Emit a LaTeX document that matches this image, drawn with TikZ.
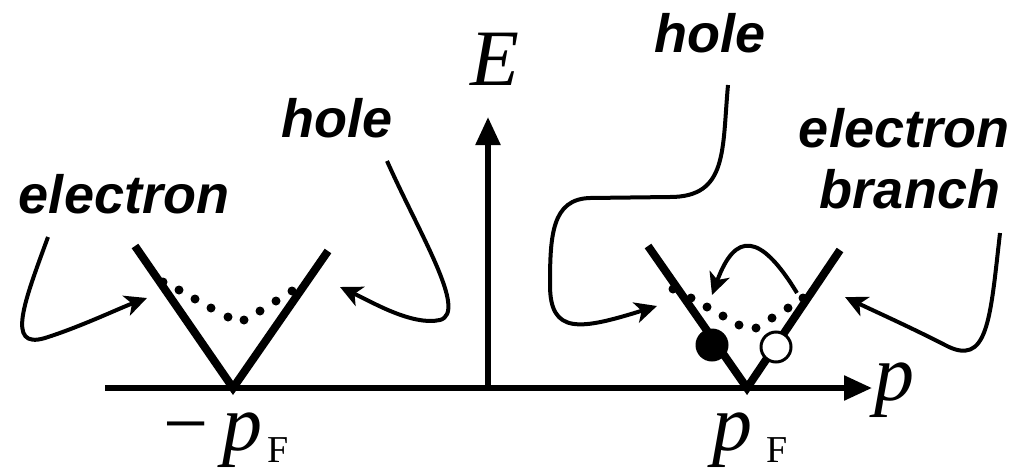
\documentclass[tikz,border=0pt]{standalone}
\usepackage{fontspec}
\usetikzlibrary{arrows.meta}
\newfontfamily\labfont{Liberation Sans}
\newfontfamily\symfont{Liberation Serif}
\begin{document}
\begin{tikzpicture}[x=1pt,y=-1pt,
  axis/.style={line width=5.5pt,-{Triangle[length=28pt,width=24pt]}},
  branchline/.style={line width=8pt,line join=miter},
  pointer/.style={line width=4pt,-{Stealth[length=22pt,width=21pt,inset=6pt]}},
  lab/.style={font=\labfont\bfseries\itshape\fontsize{54}{61}\selectfont,inner sep=0pt},
  sym/.style={font=\symfont\itshape\fontsize{80}{80}\selectfont,inner sep=0pt},
  subsym/.style={font=\symfont\fontsize{38}{38}\selectfont,inner sep=0pt},
  dotmark/.style={fill=black}]
\useasboundingbox (0,0) rectangle (1022,474);
% axes
\coordinate (xs) at (105,388);
\coordinate (xe) at (872,388);
\coordinate (O) at (488,388);
\coordinate (ye) at (488,117);
\draw[axis] (xs) -- (xe);
\draw[axis] (O) -- (ye);
\node[sym,anchor=base west] (E) at (470,85) {E};
\node[sym,anchor=base west] (p) at (874,400) {p};
% left V
\coordinate (L1) at (135,246);
\coordinate (L0) at (233,388);
\coordinate (L2) at (328,251);
\draw[branchline] (L1) -- (L0) -- (L2);
\foreach \x/\y in {163/282,179/290,195/299,211/308,228/317,244/320,260/311,276/301,292/291}
  \fill[dotmark] (\x,\y) circle (4.5pt);
% right V
\coordinate (R1) at (648,246);
\coordinate (R0) at (747,388);
\coordinate (R2) at (840,250);
\draw[branchline] (R1) -- (R0) -- (R2);
\foreach \x/\y in {673/289,691/298,707/307,723/316,739/325,756/328,772/318,788/308,803/298}
  \fill[dotmark] (\x,\y) circle (4.5pt);
\fill[black] (712,345) circle (16.5pt);
\draw[line width=3pt,fill=white] (776,347) circle (15pt);
% labels
\node[lab,anchor=base] (elL) at (124,213) {electron};
\node[lab,anchor=base] (holeL) at (337,137) {hole};
\node[lab,anchor=base] (holeR) at (710,52) {hole};
\node[lab,anchor=base] (elR) at (904,147) {electron};
\node[lab,anchor=base] (brR) at (910,208) {branch};
\node[sym,anchor=base west] (mpF) at (163,450) {\upshape\char"2212\hspace{14pt}\itshape p};
\node[subsym,anchor=base west] (mF) at (267,462) {F};
\node[sym,anchor=base west] (pF) at (712,450) {p};
\node[subsym,anchor=base west] (F) at (766,462) {F};
% pointers
\coordinate (a1s) at (48,237);
\coordinate (a1e) at (147,298);
\draw[pointer] (a1s) .. controls (25,300) and (5,350) .. (45,338) .. controls (80,327) and (120,308) .. (a1e);
\coordinate (a2s) at (387,161);
\coordinate (a2e) at (340,287);
\draw[pointer] (a2s) .. controls (420,235) and (468,312) .. (440,320) .. controls (412,326) and (372,302) .. (a2e);
\coordinate (a3s) at (728,85);
\coordinate (a3e) at (657,306);
\draw[pointer] (a3s) .. controls (722,150) and (728,197) .. (670,197) -- (590,198) .. controls (552,199) and (550,235) .. (550,285) .. controls (550,335) and (580,330) .. (a3e);
\coordinate (a4s) at (1000,233);
\coordinate (a4e) at (845,297);
\draw[pointer] (a4s) .. controls (990,320) and (988,368) .. (945,345) .. controls (912,328) and (872,310) .. (a4e);
\coordinate (a5s) at (797,293);
\coordinate (a5e) at (712,295);
\draw[pointer] (a5s) .. controls (760,232) and (735,232) .. (a5e);
\end{tikzpicture}
\end{document}
